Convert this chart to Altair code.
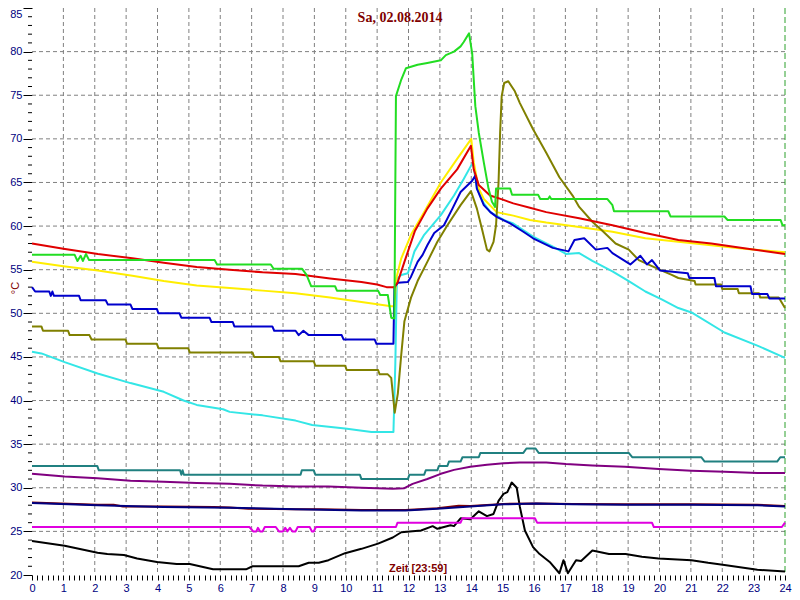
import altair as alt
import pandas as pd

# ---------------- data (hours, °C) ----------------
RED_H = [0, 1.0, 2.1, 3.2, 4.2, 5.25, 6.3, 7.35, 8.4, 9.5, 10.5, 11.0, 11.3, 11.55, 11.65, 11.87, 12.2, 12.6,
         13.03, 13.55, 13.99, 14.08, 14.24, 14.6, 15.03, 15.34, 15.87, 16.39, 17.44, 18.5, 19.55, 20.6, 21.65, 22.7, 24.0]
RED_V = [58.0, 57.4, 56.8, 56.3, 55.8, 55.3, 55.0, 54.7, 54.5, 54.0, 53.6, 53.3, 53.0, 53.0, 53.5, 55.9, 59.4, 62.0,
         64.3, 66.5, 69.2, 66.5, 64.7, 63.5, 63.0, 62.6, 62.1, 61.6, 60.9, 60.1, 59.2, 58.4, 58.0, 57.45, 56.8]

YELLOW_H = [0, 1.0, 2.1, 3.2, 4.2, 5.25, 6.3, 7.35, 8.4, 9.5, 10.5, 11.45, 11.55, 11.61, 11.77, 12.08, 12.5, 13.03,
            13.55, 14.0, 14.08, 14.24, 14.4, 14.81, 15.34, 15.87, 16.39, 17.44, 18.5, 19.55, 20.6, 21.65, 22.7, 24.0]
YELLOW_V = [55.9, 55.4, 54.9, 54.3, 53.7, 53.2, 52.9, 52.6, 52.3, 51.8, 51.3, 50.8, 50.8, 54.0, 56.3, 59.0, 61.6, 65.0,
            67.7, 70.0, 67.3, 64.3, 63.1, 61.6, 61.2, 60.7, 60.4, 59.9, 59.35, 58.6, 58.2, 57.8, 57.4, 57.0]

GREEN_H = [0, 1.36, 1.45, 1.55, 1.62, 1.72, 1.82, 5.82, 5.9, 7.61, 7.7, 8.61, 8.75, 8.9, 9.66, 9.72, 11.03, 11.1,
           11.34, 11.45, 11.55, 11.6, 11.77, 11.92, 12.29, 12.6, 13.03, 13.19, 13.45, 13.66, 13.76, 13.93, 14.03,
           14.13, 14.24, 14.4, 14.55, 14.66, 14.76, 14.79, 15.24, 15.3, 16.13, 16.2, 16.45, 16.5, 16.55, 18.34,
           18.5, 18.55, 20.28, 20.35, 22.07, 22.12, 22.17, 23.86, 23.92, 24.0]
GREEN_V = [56.7, 56.7, 56.0, 56.6, 56.0, 56.8, 56.1, 56.1, 55.6, 55.6, 55.1, 55.1, 54.4, 53.1, 53.1, 52.6, 52.6, 52.1,
           52.1, 49.5, 49.4, 74.9, 76.8, 78.1, 78.5, 78.7, 79.0, 79.6, 80.0, 80.6, 81.1, 82.1, 79.8,
           73.75, 70.7, 67.3, 64.3, 62.8, 62.2, 64.3, 64.3, 63.6, 63.6, 63.1, 63.1, 63.4, 63.1, 63.1,
           62.4, 61.7, 61.7, 61.1, 61.1, 60.9, 60.7, 60.7, 60.1, 60.1]

BLUE_H = [0, 0.1, 0.55, 0.6, 0.65, 0.7, 1.5, 1.55, 2.35, 2.42, 3.14, 3.2, 3.98, 4.03, 4.7, 4.76, 5.66, 5.72, 6.4, 6.45,
          7.66, 7.72, 8.4, 8.5, 8.65, 8.82, 9.87, 9.93, 10.92, 10.98, 11.52, 11.55, 11.66, 11.98, 12.08, 12.29, 12.45,
          12.6, 12.82, 13.13, 13.4, 13.66, 14.03, 14.13, 14.18, 14.4, 14.61, 14.81, 15.24, 15.66, 15.97, 16.6, 17.1,
          17.29, 17.6, 17.97, 18.34, 18.5, 19.07, 19.39, 19.6, 19.76, 20.02, 20.9, 20.95, 21.75, 21.8, 22.9, 22.95,
          23.44, 23.5, 24.0]
BLUE_V = [53.0, 52.5, 52.5, 52.0, 52.5, 52.0, 52.0, 51.5, 51.5, 51.0, 51.0, 50.5, 50.5, 50.0, 50.0, 49.5, 49.5, 49.0,
          49.0, 48.5, 48.5, 48.0, 48.0, 47.5, 48.0, 47.5, 47.5, 47.0, 47.0, 46.5, 46.5, 53.0, 53.5, 53.6, 54.2, 55.9,
          56.7, 57.8, 59.2, 60.1, 62.0, 63.9, 65.2, 65.8, 64.3, 62.4, 61.6, 61.05, 60.3, 59.35, 58.6, 57.5, 57.1,
          58.4, 58.6, 57.3, 57.5, 56.9, 55.6, 56.6, 55.6, 56.1, 54.9, 54.6, 54.05, 54.05, 53.1, 53.1, 52.2,
          52.2, 51.7, 51.7]

OLIVE_H = [0, 0.3, 0.35, 1.15, 1.2, 1.83, 1.9, 2.98, 3.03, 3.98, 4.03, 4.98, 5.03, 7.03, 7.08, 7.87, 7.92, 8.98, 9.03,
           9.98, 10.03, 11.03, 11.08, 11.34, 11.45, 11.56, 11.66, 11.77, 11.87, 12.08, 12.29, 12.6, 12.92, 13.24,
           13.66, 13.99, 14.18, 14.34, 14.5, 14.58, 14.71, 14.79, 14.87, 14.92, 14.97, 15.05, 15.18, 15.39, 15.55,
           15.97, 16.39, 16.81, 17.23, 17.44, 17.86, 18.17, 18.6, 19.02, 19.34, 19.76, 20.13, 20.39, 20.6, 21.12,
           21.15, 21.96, 22.0, 22.49, 22.53, 23.17, 23.21, 23.8, 24.0]
OLIVE_V = [48.5, 48.5, 48.0, 48.0, 47.5, 47.5, 47.0, 47.0, 46.5, 46.5, 46.0, 46.0, 45.5, 45.5, 45.0, 45.0, 44.5, 44.5,
           44.0, 44.0, 43.5, 43.5, 43.0, 43.0, 42.6, 38.6, 40.8, 45.3, 49.1, 51.8, 53.7, 55.9, 58.2, 60.1,
           62.4, 64.0, 62.0, 59.7, 57.3, 57.1, 58.2, 60.1, 65.0, 70.7, 74.9, 76.4, 76.6, 75.45, 74.1,
           71.1, 68.4, 65.6, 63.5, 62.2, 60.5, 59.5, 58.0, 57.3, 56.1, 55.4, 54.8, 54.4, 54.05, 53.7,
           53.3, 53.3, 52.8, 52.8, 52.3, 52.3, 51.8, 51.8, 50.6]

CYAN_H = [0, 0.3, 1.04, 2.09, 3.14, 4.2, 4.83, 5.25, 6.09, 6.3, 7.35, 8.4, 8.93, 9.98, 10.82, 11.52, 11.58, 11.63,
          11.77, 11.98, 12.19, 12.5, 13.03, 13.45, 13.76, 13.99, 14.06, 14.18, 14.4, 14.61, 15.03, 15.34, 15.97,
          16.6, 17.02, 17.44, 17.86, 18.5, 19.02, 19.55, 20.07, 20.6, 21.02, 22.07, 23.12, 24.0]
CYAN_V = [45.6, 45.4, 44.4, 43.1, 42.0, 41.0, 40.0, 39.5, 39.0, 38.7, 38.3, 37.7, 37.2, 36.8, 36.4, 36.4, 44.2, 54.0,
          54.4, 54.6, 57.1, 59.0, 61.25, 63.5, 65.4, 66.9, 67.2, 64.3, 62.6, 61.6, 60.7, 60.3, 58.8,
          57.65, 56.8, 56.9, 56.0, 54.8, 53.7, 52.5, 51.6, 50.6, 50.1, 47.8, 46.3, 44.9]

TEAL_H = [0, 2.08, 2.13, 4.72, 4.76, 4.8, 4.84, 8.56, 8.6, 8.98, 9.03, 10.45, 10.5, 11.98, 12.03, 12.5, 12.55, 12.92,
          12.97, 13.24, 13.29, 13.66, 13.72, 14.24, 14.29, 15.66, 15.76, 16.05, 16.15, 19.02, 19.13, 21.33, 21.44,
          23.75, 23.85, 24.0]
TEAL_V = [32.5, 32.5, 32.0, 32.0, 31.5, 32.0, 31.5, 31.5, 32.0, 32.0, 31.5, 31.5, 31.0, 31.0, 31.5, 31.5, 32.0, 32.0,
          32.5, 32.5, 33.0, 33.0, 33.5, 33.5, 34.0, 34.0, 34.5, 34.5, 34.0, 34.0, 33.5, 33.5, 33.0,
          33.0, 33.5, 33.5]

PURPLE_H = [0, 1.04, 2.09, 3.14, 4.2, 5.25, 6.3, 7.35, 8.4, 9.45, 10.5, 11.5, 11.87, 12.13, 12.6, 13.03, 13.45, 13.97,
            14.5, 15.03, 15.55, 16.39, 17.02, 17.86, 18.9, 19.97, 21.02, 22.07, 23.12, 24.0]
PURPLE_V = [31.6, 31.3, 31.1, 30.8, 30.7, 30.55, 30.45, 30.25, 30.15, 30.15, 30.0, 29.9, 29.95, 30.45, 31.0, 31.6,
            32.05, 32.4, 32.65, 32.8, 32.9, 32.9, 32.72, 32.55, 32.4, 32.15, 31.96, 31.85, 31.7, 31.68]

NAVY_H = [0, 2.09, 4.2, 6.3, 8.4, 10.5, 11.9, 12.92, 13.97, 15.03, 16.07, 17.23, 18.9, 21.0, 23.12, 24.0]
NAVY_V = [28.25, 28.0, 27.8, 27.7, 27.55, 27.4, 27.4, 27.6, 27.85, 28.1, 28.2, 28.1, 28.05, 28.05, 28.0, 27.85]

MAROON_H = [0, 2.09, 2.6, 2.9, 4.2, 5.8, 6.3, 6.9, 8.4, 9.2, 10.5, 11.9, 12.92, 13.6, 13.97, 15.03, 16.07, 17.23,
            18.9, 21.0, 23.12, 24.0]
MAROON_V = [28.3, 28.05, 28.05, 27.85, 27.85, 27.8, 27.75, 27.6, 27.55, 27.55, 27.45, 27.45, 27.65, 27.95, 27.9,
            28.15, 28.2, 28.15, 28.1, 28.1, 28.05, 27.9]

MAGENTA_H = [0, 6.93, 7.05, 7.15, 7.2, 7.27, 7.35, 7.42, 7.77, 7.87, 8.0, 8.07, 8.14, 8.22, 8.3, 8.4, 8.47, 8.85,
             8.92, 8.98, 9.05, 11.6, 11.65, 13.66, 13.72, 16.03, 16.1, 19.76, 19.82, 23.9, 24.0]
MAGENTA_V = [25.5, 25.5, 25.0, 25.0, 25.4, 25.0, 25.0, 25.5, 25.5, 25.0, 25.0, 25.4, 25.0, 25.4, 25.0, 25.0, 25.5,
             25.5, 25.0, 25.0, 25.5, 25.5, 26.0, 26.0, 26.5, 26.5, 26.0, 26.0, 25.5, 25.5, 26.0]

BLACK_H = [0, 1.04, 2.09, 2.4, 2.93, 3.35, 3.98, 4.61, 5.03, 5.77, 6.82, 7.03, 8.5, 8.82, 9.14, 9.45, 9.98, 10.5,
           11.03, 11.5, 11.77, 12.4, 12.77, 12.92, 13.34, 13.45, 13.66, 13.97, 14.24, 14.5, 14.71, 14.87, 15.03,
           15.15, 15.29, 15.45, 15.55, 15.71, 15.97, 16.18, 16.5, 16.81, 16.94, 17.08, 17.34, 17.5, 17.86, 18.39,
           18.92, 19.44, 19.97, 21.02, 21.55, 22.07, 23.12, 24.0]
BLACK_V = [23.9, 23.35, 22.55, 22.4, 22.3, 21.9, 21.5, 21.25, 21.25, 20.65, 20.65, 21.0, 21.0, 21.4, 21.4, 21.7,
           22.5, 23.0, 23.6, 24.3, 24.9, 25.1, 25.6, 25.3, 25.7, 25.6, 26.5, 26.4, 27.3, 26.75, 27.0, 28.5, 29.3,
           29.5, 30.6, 30.0, 27.8, 25.1, 23.2, 22.4, 21.5, 20.2, 21.7, 20.2, 21.7, 21.6, 22.8, 22.4,
           22.4, 22.1, 21.9, 21.7, 21.4, 21.15, 20.6, 20.4]

GRID_HOURS = list(range(1, 24))
GRID_TEMPS = list(range(25, 85, 5))
MAJOR_TEMPS = list(range(20, 90, 5))
MINOR_TEMPS = [t for t in range(21, 85) if t % 5 != 0]
X_TICKS = [i / 6 for i in range(0, 145)]
CURSOR_HOUR = [24]

TITLE = ["Sa, 02.08.2014"]
XLABEL = ["Zeit [23:59]"]
YLABEL = ["°C"]

SERIES = [
    ("black", BLACK_H, BLACK_V, "#000000"),
    ("magenta", MAGENTA_H, MAGENTA_V, "#e000e0"),
    ("maroon", MAROON_H, MAROON_V, "#800000"),
    ("navy", NAVY_H, NAVY_V, "#000080"),
    ("purple", PURPLE_H, PURPLE_V, "#800080"),
    ("teal", TEAL_H, TEAL_V, "#208080"),
    ("cyan", CYAN_H, CYAN_V, "#33e6e6"),
    ("yellow", YELLOW_H, YELLOW_V, "#ffee00"),
    ("olive", OLIVE_H, OLIVE_V, "#808000"),
    ("blue", BLUE_H, BLUE_V, "#0000cc"),
    ("red", RED_H, RED_V, "#e00000"),
    ("green", GREEN_H, GREEN_V, "#22dd22"),
]

# ---------------- scales / axes ----------------
x_axis = alt.Axis(values=X_TICKS,
                  labelExpr="datum.value % 1 === 0 ? format(datum.value, 'd') : ''",
                  tickSize=5, tickColor="black", tickWidth=1, domain=False, grid=False,
                  labelColor="#000080", labelFont="Liberation Sans", labelFontSize=11,
                  labelPadding=2, labelFlush=False, labelOverlap=False, title=None)
y_axis = alt.Axis(values=MAJOR_TEMPS, tickSize=9, tickColor="black", tickWidth=1, domain=False, grid=False,
                  labelColor="#000080", labelFont="Liberation Sans", labelFontSize=11,
                  labelBaseline={"condition": {"test": "datum.value >= 85", "value": "top"}, "value": "middle"},
                  labelPadding=1, labelOverlap=False, title=None)
X = alt.X("h:Q", scale=alt.Scale(domain=[0, 24], nice=False, zero=False), axis=x_axis)
Y = alt.Y("v:Q", scale=alt.Scale(domain=[20, 85], nice=False, zero=False), axis=y_axis)

layers = []
layers.append(alt.Chart(pd.DataFrame({"h": GRID_HOURS})).mark_rule(
    color="#808080", strokeDash=[4, 3], strokeWidth=1).encode(x=X))
layers.append(alt.Chart(pd.DataFrame({"v": GRID_TEMPS})).mark_rule(
    color="#808080", strokeDash=[4, 3], strokeWidth=1).encode(y=Y))
layers.append(alt.Chart(pd.DataFrame({"v": MINOR_TEMPS})).mark_rule(
    color="black", strokeWidth=1).encode(y=Y, x=alt.value(-4), x2=alt.value(0)))
layers.append(alt.Chart(pd.DataFrame({"h": CURSOR_HOUR})).mark_rule(
    color="#2ca02c", strokeDash=[6, 3], strokeWidth=1).encode(x=X))

for name, hs, vs, col in SERIES:
    df = pd.DataFrame({"h": hs, "v": vs})
    layers.append(alt.Chart(df).mark_line(color=col, strokeWidth=2, strokeJoin="round").encode(x=X, y=Y))

layers.append(alt.Chart(pd.DataFrame({"t": TITLE})).mark_text(
    font="Liberation Serif", fontSize=14, fontWeight="bold", color="#800000", align="center", baseline="middle"
).encode(x=alt.value(368), y=alt.value(10), text="t:N"))
layers.append(alt.Chart(pd.DataFrame({"t": XLABEL})).mark_text(
    font="Liberation Sans", fontSize=11, fontWeight="bold", color="#800000", align="center", baseline="middle"
).encode(x=alt.value(386), y=alt.value(561), text="t:N"))
layers.append(alt.Chart(pd.DataFrame({"t": YLABEL})).mark_text(
    font="Liberation Sans", fontSize=11, color="#800000", align="center", baseline="middle", angle=270
).encode(x=alt.value(-16), y=alt.value(280), text="t:N"))

chart = alt.layer(*layers).properties(
    width=753, height=567,
    padding={"left": 24, "top": 0, "right": 7, "bottom": 17},
    autosize=alt.AutoSizeParams(type="none"),
).configure_view(stroke=None)

chart.save("out.html", embed_options={"renderer": "svg", "actions": False})
